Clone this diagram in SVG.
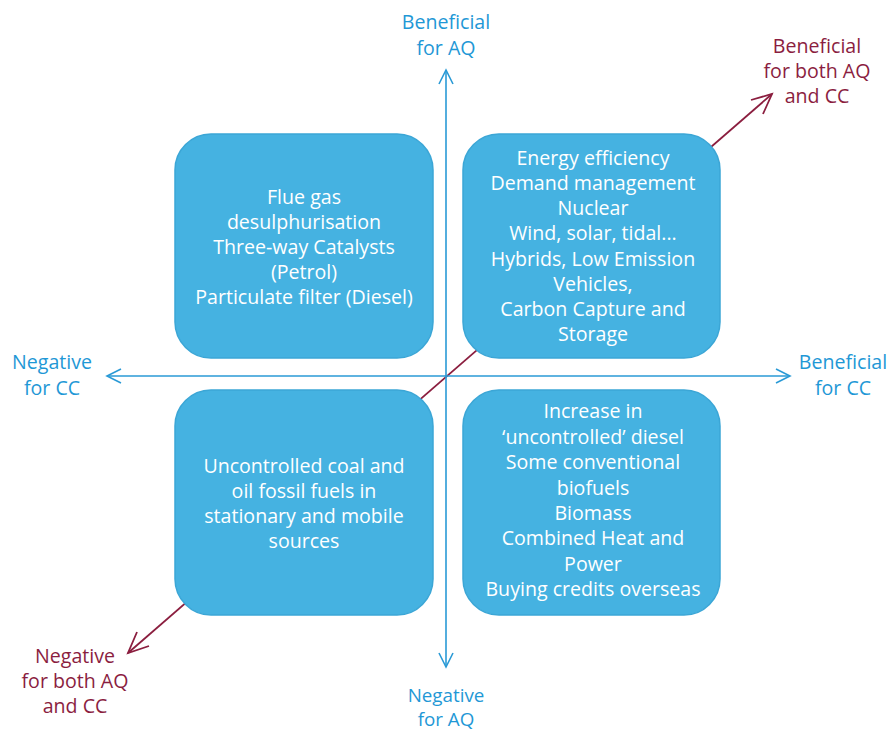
<svg xmlns="http://www.w3.org/2000/svg" width="892" height="731" viewBox="0 0 892 731">
<defs>
<style>
.ax{stroke:#2a9ad6;stroke-width:1.6;fill:none}
.dg{stroke:#8b1e3f;stroke-width:1.8;fill:none}
.box{fill:#45b2e1;stroke:#3ba6d6;stroke-width:1.5}
.bt{font-family:"Open Sans","Noto Sans",sans-serif;font-size:19.6px;fill:#ffffff;text-anchor:middle}
.bl{font-family:"Open Sans","Noto Sans",sans-serif;font-size:19.6px;fill:#1f98d6;text-anchor:middle}
.rl{font-family:"Open Sans","Noto Sans",sans-serif;font-size:19.6px;fill:#8b1e3f;text-anchor:middle}
</style>
</defs>
<rect width="892" height="731" fill="#ffffff"/>
<g id="connectors">
<line class="dg" x1="128" y1="653" x2="772" y2="94"/>
<polyline class="dg" points="137,632 128,653 149,646"/>
<polyline class="dg" points="751,100 772,94 763,114"/>
<line class="ax" x1="446" y1="70" x2="446" y2="667"/>
<polyline class="ax" points="439,84 446,70 453,84"/>
<polyline class="ax" points="439,653 446,667 453,653"/>
<line class="ax" x1="107" y1="376" x2="790" y2="376"/>
<polyline class="ax" points="121,369 107,376 121,383"/>
<polyline class="ax" points="776,369 790,376 776,383"/>
</g>
<g id="box-tl">
<rect class="box" x="175" y="134" width="258" height="224" rx="36"/>
<text class="bt" x="304" y="204">Flue gas</text>
<text class="bt" x="304" y="229">desulphurisation</text>
<text class="bt" x="304" y="254">Three-way Catalysts</text>
<text class="bt" x="304" y="279">(Petrol)</text>
<text class="bt" x="304" y="304">Particulate filter (Diesel)</text>
</g>
<g id="box-tr">
<rect class="box" x="463" y="134" width="257" height="224" rx="36"/>
<text class="bt" x="593" y="165">Energy efficiency</text>
<text class="bt" x="593" y="190">Demand management</text>
<text class="bt" x="593" y="215">Nuclear</text>
<text class="bt" x="593" y="240">Wind, solar, tidal...</text>
<text class="bt" x="593" y="266">Hybrids, Low Emission</text>
<text class="bt" x="593" y="291">Vehicles,</text>
<text class="bt" x="593" y="316">Carbon Capture and</text>
<text class="bt" x="593" y="341">Storage</text>
</g>
<g id="box-bl">
<rect class="box" x="175" y="390" width="258" height="225" rx="36"/>
<text class="bt" x="304" y="473">Uncontrolled coal and</text>
<text class="bt" x="304" y="498">oil fossil fuels in</text>
<text class="bt" x="304" y="523">stationary and mobile</text>
<text class="bt" x="304" y="548">sources</text>
</g>
<g id="box-br">
<rect class="box" x="463" y="390" width="257" height="225" rx="36"/>
<text class="bt" x="593" y="418">Increase in</text>
<text class="bt" x="593" y="444">‘uncontrolled’ diesel</text>
<text class="bt" x="593" y="469">Some conventional</text>
<text class="bt" x="593" y="495">biofuels</text>
<text class="bt" x="593" y="520">Biomass</text>
<text class="bt" x="593" y="545">Combined Heat and</text>
<text class="bt" x="593" y="571">Power</text>
<text class="bt" x="593" y="596">Buying credits overseas</text>
</g>
<g id="label-top">
<text class="bl" x="446" y="29">Beneficial</text>
<text class="bl" x="446" y="55">for AQ</text>
</g>
<g id="label-bottom">
<text class="bl" x="446" y="702" style="font-size:18.8px">Negative</text>
<text class="bl" x="446" y="726" style="font-size:18.8px">for AQ</text>
</g>
<g id="label-left">
<text class="bl" x="52" y="369">Negative</text>
<text class="bl" x="52" y="395">for CC</text>
</g>
<g id="label-right">
<text class="bl" x="843" y="369">Beneficial</text>
<text class="bl" x="843" y="395">for CC</text>
</g>
<g id="label-tr">
<text class="rl" x="817" y="53">Beneficial</text>
<text class="rl" x="817" y="78">for both AQ</text>
<text class="rl" x="817" y="103">and CC</text>
</g>
<g id="label-bl">
<text class="rl" x="75" y="663">Negative</text>
<text class="rl" x="75" y="688">for both AQ</text>
<text class="rl" x="75" y="713">and CC</text>
</g>
</svg>
